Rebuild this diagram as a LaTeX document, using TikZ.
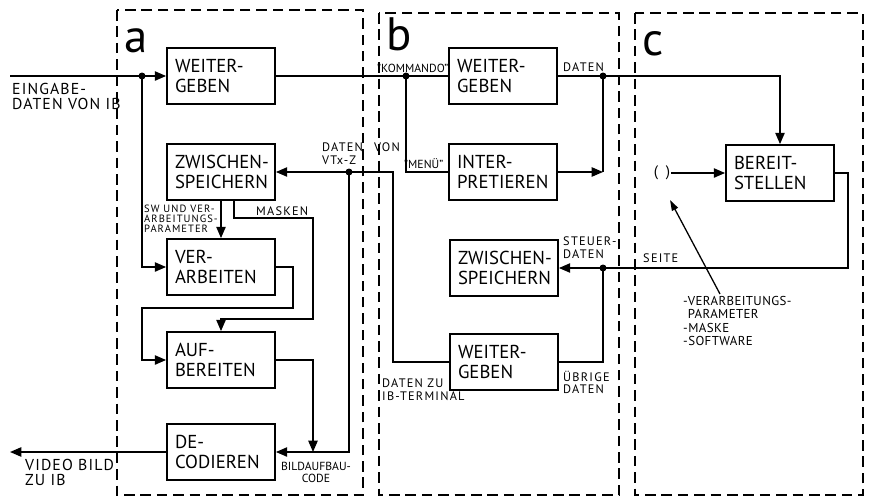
\documentclass[tikz,border=0pt]{standalone}
\usepackage{fontspec}
\setmainfont{PT Sans}
\newfontfamily\lblfont[LetterSpace=10]{PT Sans}
\newfontfamily\biglblfont[LetterSpace=7]{PT Sans}
\newfontfamily\notefont[LetterSpace=3]{PT Sans}
\usetikzlibrary{arrows.meta,positioning,calc}
\tikzset{
  flow box/.style={draw, line width=1.5pt, minimum width=3.24cm, minimum height=1.68cm, text width=2.76cm, inner xsep=0.24cm, align=left, font=\fontsize{16}{17}\selectfont, execute at begin node={\exhyphenpenalty=10000\relax\hfuzz=30pt\relax}},
  flow edge/.style={line width=1.3pt},
  flow arrow/.style={flow edge, -{Triangle[length=3.4mm, width=2.8mm]}},
  note arrow/.style={line width=1.1pt, -{Triangle[length=3.2mm, width=2mm]}},
  flow dot/.style={circle, fill, inner sep=0pt, minimum size=2.1mm},
  flow label/.style={font=\lblfont\fontsize{10.5}{10.5}\selectfont, align=left, inner sep=0pt},
  plain label/.style={font=\fontsize{10}{10.5}\selectfont, align=left, inner sep=0pt},
  tiny label/.style={font=\lblfont\fontsize{9}{8.6}\selectfont, align=left, inner sep=0pt},
  big label/.style={font=\biglblfont\fontsize{13.5}{13}\selectfont, align=left, inner sep=0pt},
  note label/.style={font=\notefont\fontsize{11}{11.5}\selectfont, align=left, inner sep=0pt},
  panel frame/.style={line width=1.1pt, dash pattern=on 9pt off 5pt},
  panel letter/.style={font=\fontsize{40}{40}\selectfont, inner sep=0pt},
}

\begin{document}
\begin{tikzpicture}[x=0.03cm, y=-0.03cm]
  \useasboundingbox (0,0) rectangle (870,497);
  \draw[panel frame] (117,10) rectangle (363,495);
  \draw[panel frame] (379,13) rectangle (619,495);
  \draw[panel frame] (635,13) rectangle (863,495);
  \node[panel letter, anchor=base west] (la) at (124,52) {a};
  \node[panel letter, anchor=base west] (lb) at (386,50) {b};
  \node[panel letter, anchor=base west] (lc) at (642,55) {c};

  \node[flow box] (aweiter) at (221,76) {WEITER-\\GEBEN};
  \node[flow box] (azwisch) at (221,172) {ZWISCHEN-\\SPEICHERN};
  \node[flow box] (aver) at (221,267) {VER-\\ARBEITEN};
  \node[flow box] (aauf) at (221,360) {AUF-\\BEREITEN};
  \node[flow box] (adeco) at (221,452) {DE-\\CODIEREN};
  \node[flow box] (bweiter) at (503,76) {WEITER-\\GEBEN};
  \node[flow box] (binter) at (503,172) {INTER-\\PRETIEREN};
  \node[flow box] (bzwisch) at (504,268) {ZWISCHEN-\\SPEICHERN};
  \node[flow box] (bgeben) at (504,362) {WEITER-\\GEBEN};
  \node[flow box] (cbereit) at (780,173) {BEREIT-\\STELLEN};
  \node[inner sep=1pt] (cleer) at (662,173) {\fontsize{13}{13}\selectfont(\hspace{0.5em})};

  \coordinate (inL) at (10,76);
  \coordinate (outL) at (10,452);
  \coordinate (cR) at (848,268);
  \coordinate (bL) at (393,172);
  \coordinate (mk1) at (313,218);
  \coordinate (mk2) at (313,319);
  \coordinate (vk1) at (293,308);
  \coordinate (vk2) at (142,308);
  \coordinate (ctip) at (670,200);
  \node[flow dot] (jin) at (142,76) {};
  \node[flow dot] (jkom) at (406,76) {};
  \node[flow dot] (jdat) at (603,76) {};
  \node[flow dot] (jvtx) at (349,172) {};
  \node[flow dot] (jst) at (603,268) {};

  \draw[flow arrow] (inL) -- (aweiter.west);
  \draw[flow arrow] (jin.center) |- (aver.west);
  \draw[flow edge] (aweiter.east) -- (bweiter.west);
  \draw[flow edge] (jkom.center) |- (binter.west);
  \draw[flow edge] (bweiter.east) -- (jdat.center) -- (jdat.center |- binter.east);
  \draw[flow arrow] (binter.east) -- (binter.east -| jdat.center);
  \draw[flow arrow] (jdat.center) -| (cbereit.north);
  \draw[flow arrow] (cleer) -- (cbereit.west);
  \draw[flow arrow] (cbereit.east) -| (cR) -- (bzwisch.east);
  \draw[flow edge] (jst.center) |- (bgeben.east);
  \draw[flow arrow] (bgeben.west) -| (bL) -- (azwisch.east);
  \draw[flow arrow] (jvtx.center) |- (adeco.east);
  \draw[flow arrow] (azwisch.south) -- (aver.north);
  \draw[flow arrow] ($(azwisch.south)+(13,0)$) |- (mk1) -- (mk2) -| (aauf.north);
  \draw[flow arrow] (aver.east) -| (vk1) -- (vk2) |- (aauf.west);
  \draw[flow arrow] (aauf.east) -| (adeco.east -| mk1);
  \draw[flow arrow] (adeco.west) -- (outL);

  \node[big label, anchor=north west] (ein) at (12,83) {EINGABE-\\DATEN VON IB};
  \node[big label, anchor=north west] (vid) at (25,459) {VIDEO BILD\\ZU IB};
  \node[tiny label, anchor=north east] (sw) at (218,205) {SW UND VER-\\ARBEITUNGS-\\PARAMETER};
  \node[flow label, anchor=base west] (mask) at (256,215) {MASKEN};
  \node[flow label, anchor=north west] (vtx) at (322,143) {DATEN\hspace{0.9em}VON\\VTx-Z};
  \node[plain label, anchor=base west] (kom) at (377,72) {”KOMMANDO”};
  \node[plain label, anchor=base west] (menu) at (404,168) {”MENÜ”};
  \node[flow label, anchor=base west] (dat) at (563,71) {DATEN};
  \node[flow label, anchor=north west] (steu) at (563,237) {STEUER-\\DATEN};
  \node[flow label, anchor=base west] (seite) at (643,262) {SEITE};
  \node[flow label, anchor=north west] (ueb) at (563,371) {ÜBRIGE\\DATEN};
  \node[flow label, anchor=north west] (dzu) at (382,379) {DATEN ZU\\IB-TERMINAL};
  \node[plain label, anchor=north, align=center] (bild) at (316,462) {BILDAUFBAU-\\CODE};
  \node[note label, anchor=north west] (cnote) at (683,296) {-VERARBEITUNGS-\\\hphantom{-}PARAMETER\\-MASKE\\-SOFTWARE};
  \draw[note arrow] ($(cnote.north west)+(37,-2)$) -- (ctip);
\end{tikzpicture}
\end{document}
